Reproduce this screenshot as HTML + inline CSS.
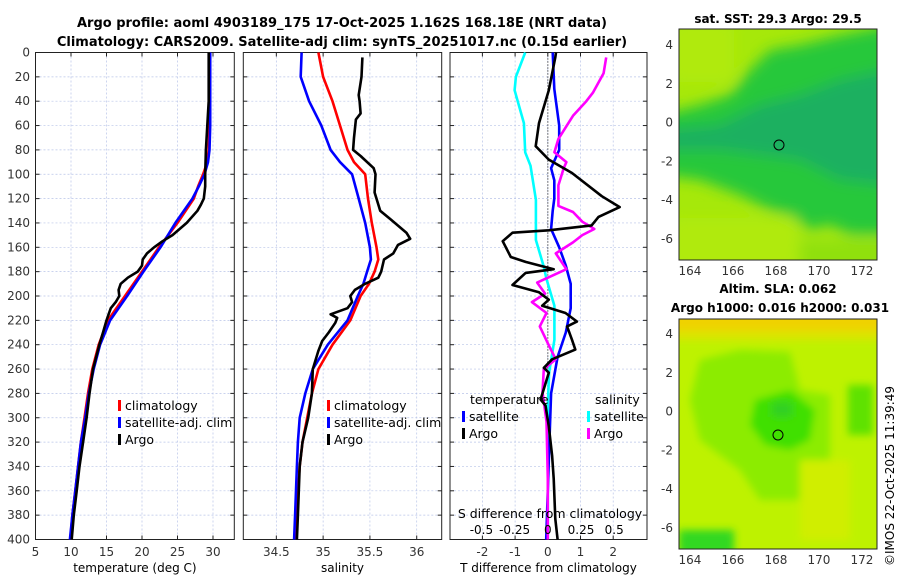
<!DOCTYPE html>
<html><head><meta charset="utf-8">
<style>
body{margin:0;background:#fff;font-family:"Liberation Sans","DejaVu Sans",sans-serif}
svg text{font-family:"DejaVu Sans","Liberation Sans",sans-serif}
</style></head>
<body>
<svg id="fig" width="900" height="580" viewBox="0 0 900 580" xmlns="http://www.w3.org/2000/svg">
<defs>
<filter id="blur1"><feGaussianBlur stdDeviation="7"/></filter>
<filter id="blur2"><feGaussianBlur stdDeviation="4"/></filter>
<clipPath id="m1c"><rect x="679" y="29" width="198" height="231"/></clipPath>
<clipPath id="m2c"><rect x="679" y="319" width="198" height="230"/></clipPath>
</defs>
<text x="342" y="27" font-size="13" font-weight="bold" text-anchor="middle">Argo profile: aoml 4903189_175 17-Oct-2025 1.162S 168.18E (NRT data)</text>
<text x="342" y="46" font-size="13" font-weight="bold" text-anchor="middle">Climatology: CARS2009. Satellite-adj clim: synTS_20251017.nc (0.15d earlier)</text>
<g id="panels"></g>
<g>
<text x="778" y="23" font-size="12" font-weight="bold" text-anchor="middle">sat. SST: 29.3 Argo: 29.5</text>
<g clip-path="url(#m1c)">
<rect x="679" y="29" width="198" height="231" fill="#a6e80a"/>
<g filter="url(#blur1)">
<path d="M660 115 L700 105 L730 95 L750 70 L770 50 L800 45 L840 35 L890 25 L890 235 L850 235 L830 225 L810 230 L790 215 L770 210 L740 195 L700 180 L660 175 Z" fill="#28c83a"/>
<path d="M665 130 L720 125 L760 105 L800 95 L840 80 L885 70 L885 185 L840 180 L800 160 L760 155 L720 150 L665 150 Z" fill="#1ab060"/>
<rect x="672" y="22" width="62" height="60" fill="#b0ea0c"/>
<rect x="672" y="218" width="125" height="50" fill="#b0ea0c"/>
<rect x="800" y="240" width="90" height="30" fill="#90e010"/>
</g>
</g>
<rect x="679" y="29" width="198" height="231" fill="none" stroke="#222"/>
<circle cx="779" cy="145" r="5" fill="none" stroke="#000"/>
</g>
<g>
<text x="778" y="293" font-size="12" font-weight="bold" text-anchor="middle">Altim. SLA: 0.062</text>
<text x="780" y="312" font-size="12" font-weight="bold" text-anchor="middle">Argo h1000: 0.016 h2000: 0.031</text>
<g clip-path="url(#m2c)">
<rect x="679" y="319" width="198" height="230" fill="#bef200"/>
<g filter="url(#blur2)">
<rect x="670" y="310" width="215" height="22" fill="#f0d200"/>
<rect x="670" y="330" width="215" height="10" fill="#dce400"/>
<path d="M700 360 L740 350 L790 352 L800 390 L830 395 L830 470 L800 500 L760 500 L740 470 L700 440 L690 400 Z" fill="#8cec00"/>
<path d="M755 400 L790 390 L815 410 L810 440 L790 450 L765 445 L750 425 Z" fill="#40e000"/>
<rect x="772" y="402" width="20" height="15" fill="#30d020"/>
<rect x="848" y="385" width="25" height="50" fill="#5ee200"/>
<rect x="679" y="530" width="55" height="25" fill="#30d820"/>
<rect x="800" y="460" width="50" height="80" fill="#d0ee00"/>
</g>
</g>
<rect x="679" y="319" width="198" height="230" fill="none" stroke="#222"/>
<circle cx="778" cy="435" r="5" fill="none" stroke="#000"/>
</g>
<text transform="translate(894,566) rotate(-90)" font-size="12">©IMOS 22-Oct-2025 11:39:49</text>
</svg>
<script>
// ---------- data ----------
const depthTicks=[0,20,40,60,80,100,120,140,160,180,200,220,240,260,280,300,320,340,360,380,400];
const tempTicks=[5,10,15,20,25,30];
const salTicks=[34.5,35,35.5,36];
const salTickLabels=["34.5","35","35.5","36"];
const tdiffTicks=[-2,-1,0,1,2];
const sdiffTicks=[-0.5,-0.25,0,0.25,0.5];
const sdiffTickLabels=["-0.5","-0.25","0","0.25","0.5"];
const mapLonTicks=[164,166,168,170,172];
const mapLatTicks=[4,2,0,-2,-4,-6];

const climTdepth=[0,20,40,60,80,90,100,110,120,140,160,180,200,220,240,260,280,300,320,340,360,380,400];
const climT=[29.5,29.5,29.5,29.5,29.4,29.2,28.6,27.9,27.3,25.0,22.4,20.0,17.6,15.2,13.9,13.0,12.4,11.9,11.4,11.0,10.6,10.2,9.9];
const satT=[29.6,29.6,29.6,29.6,29.5,29.3,28.8,28.0,27.1,24.7,22.6,20.2,17.9,15.5,14.1,13.2,12.5,12.0,11.4,11.0,10.6,10.2,9.85];
const argoTdepth=[0,40,60,80,100,110,120,125,130,140,145,150,155,160,165,170,175,180,185,190,195,200,205,210,215,220,230,240,260,280,300,320,340,360,380,400];
const argoT=[29.4,29.4,29.2,29.0,28.9,28.9,28.7,28.3,27.8,26.3,25.3,24.3,22.9,21.7,20.7,20.1,20.0,19.4,18.0,17.0,16.7,16.8,16.3,15.6,15.3,15.0,14.5,14.0,13.1,12.6,12.2,11.7,11.2,10.8,10.4,10.1];

const salDepth=[0,20,40,60,80,90,100,120,140,160,170,180,190,200,220,240,260,280,300,320,340,360,380,400];
const climS=[34.95,35.0,35.1,35.18,35.26,35.33,35.45,35.48,35.52,35.57,35.59,35.55,35.49,35.40,35.29,35.10,34.95,34.88,34.83,34.78,34.75,34.73,34.72,34.71];
const satS=[34.77,34.76,34.85,34.98,35.08,35.18,35.31,35.38,35.45,35.50,35.51,35.47,35.43,35.37,35.26,35.05,34.89,34.81,34.75,34.73,34.72,34.71,34.70,34.69];
const argoSdepth=[4,20,35,40,50,55,70,80,85,95,100,115,120,130,137,148,153,158,165,170,180,185,190,195,200,205,210,215,218,222,230,237,245,260,280,300,320,340,360,380,400];
const argoS=[35.42,35.41,35.38,35.39,35.40,35.35,35.33,35.32,35.40,35.54,35.56,35.55,35.57,35.61,35.72,35.89,35.93,35.80,35.75,35.65,35.62,35.59,35.45,35.34,35.29,35.31,35.26,35.08,35.15,35.13,35.06,34.99,34.95,34.89,34.88,34.84,34.78,34.75,34.74,34.73,34.72];

const tdiffArgoDepth=[0,4,31,58,77,88,99,118,127,135,142,146,148,155,168,172,178,181,191,197,203,208,214,221,225,236,244,252,259,263,285,290,307,331,350,383,400];
const tdiffArgo=[0.25,0.23,0.03,-0.27,-0.37,0.03,0.74,1.65,2.2,1.55,1.34,0.03,-1.08,-1.38,-1.13,-0.68,0.18,-0.68,-1.08,-0.27,0.03,-0.17,0.54,0.89,0.59,0.74,0.84,0.13,-0.12,0.03,-0.22,-0.07,0.03,0.13,0.18,0.23,0.3];
const tdiffSatDepth=[0,30,60,80,95,105,120,130,145,160,175,190,210,230,250,280,320,360,400];
const tdiffSat=[0.15,0.2,0.35,0.35,0.1,0.2,0.2,0.15,0.1,0.35,0.55,0.7,0.7,0.55,0.3,0.1,0.05,0.0,-0.05];
const sdiffSatDepth=[0,20,31,58,82,93,121,154,176,186,208,236,263,290,340,400];
const sdiffSat=[-0.17,-0.24,-0.25,-0.18,-0.17,-0.13,-0.09,-0.09,-0.03,-0.01,0.05,0.05,0.01,0.0,0.0,0.0];
const sdiffArgoDepth=[4,17,33,40,52,71,82,90,95,109,126,131,139,145,150,156,165,178,189,198,205,214,225,241,252,260,279,303,350,400];
const sdiffArgo=[0.44,0.42,0.34,0.29,0.19,0.08,0.05,0.14,0.12,0.08,0.08,0.19,0.26,0.35,0.26,0.19,0.06,0.14,-0.08,-0.02,-0.12,-0.01,-0.06,0.01,0.06,-0.03,-0.04,-0.01,0.0,0.0];

// ---------- drawing ----------
const NS="http://www.w3.org/2000/svg";
const root=document.getElementById('panels');
function mk(tag,attrs,parent){const e=document.createElementNS(NS,tag);for(const k in attrs)e.setAttribute(k,attrs[k]);(parent||root).appendChild(e);return e;}
const Y0=52.5,Y1=539.5;
function yD(d){return Y0+(d/400)*(Y1-Y0);}
function makeX(x0,x1,v0,v1){return v=>x0+(v-v0)/(v1-v0)*(x1-x0);}

function panel(name,x0,x1,xs,ticks,labels,xlabel){
  const g=mk('g',{});
  
  
  ticks.forEach(t=>{const l=mk('line',{x1:xs(t),x2:xs(t),y1:Y0,y2:Y1,stroke:'#b8c4e8','stroke-width':0.7,'stroke-dasharray':'2,2'},g);
    });
  depthTicks.forEach(d=>{const l=mk('line',{x1:x0,x2:x1,y1:yD(d),y2:yD(d),stroke:'#b8c4e8','stroke-width':0.7,'stroke-dasharray':'2,2'},g);
    
    const t1=mk('line',{x1:x0,x2:x0+4,y1:yD(d),y2:yD(d),stroke:'#222'},g);
    const t2=mk('line',{x1:x1-4,x2:x1,y1:yD(d),y2:yD(d),stroke:'#222'},g);});
  ticks.forEach((t,i)=>{
    const tk=mk('line',{x1:xs(t),x2:xs(t),y1:Y1-4,y2:Y1,stroke:'#222'},g);
    const tk2=mk('line',{x1:xs(t),x2:xs(t),y1:Y0,y2:Y0+4,stroke:'#222'},g);
    const tx=mk('text',{x:xs(t),y:556,'font-size':12,'text-anchor':'middle',fill:'#333'},g);tx.textContent=labels[i];
    });
  const fr=mk('rect',{x:x0,y:Y0,width:x1-x0,height:Y1-Y0,fill:'none',stroke:'#222'},g);
  
  const xl=mk('text',{x:(x0+x1)/2,y:572,'font-size':12,'text-anchor':'middle'},g);xl.textContent=xlabel;
  
  return g;
}
function line(g,xs,vals,depths,color,name){
  const p=vals.map((v,i)=>xs(v).toFixed(1)+','+yD(depths[i]).toFixed(1)).join(' ');
  const l=mk('polyline',{points:p,fill:'none',stroke:color,'stroke-width':2.6,'stroke-linejoin':'round'},g);
  
}
function legend(g,x,y,color,label){
  const b=mk('rect',{x:x,y:y-10,width:3,height:11,fill:color},g);
  
  const t=mk('text',{x:x+7,y:y,'font-size':12.5},g);t.textContent=label;
  
}
depthTicks.forEach(d=>{const t=mk('text',{x:30,y:yD(d)+4,'font-size':12,'text-anchor':'end',fill:'#333'});t.textContent=d;
  });

// panel 1
const xT=makeX(35.5,234.3,5,33.0);
const g1=panel('temperature-panel',35.5,234.3,xT,tempTicks,tempTicks.map(String),'temperature (deg C)');
line(g1,xT,climT,climTdepth,'#ff0000','climatology-temp-line');
line(g1,xT,satT,climTdepth,'#0000ff','satellite-temp-line');
line(g1,xT,argoT,argoTdepth,'#000000','argo-temp-line');
legend(g1,118,410,'#f00','climatology');legend(g1,118,427,'#00f','satellite-adj. clim');legend(g1,118,444,'#000','Argo');

// panel 2
const xS=makeX(243.3,441.7,34.147,36.267);
const g2=panel('salinity-panel',243.3,441.7,xS,salTicks,salTickLabels,'salinity');
line(g2,xS,climS,salDepth,'#ff0000','climatology-sal-line');
line(g2,xS,satS,salDepth,'#0000ff','satellite-sal-line');
line(g2,xS,argoS,argoSdepth,'#000000','argo-sal-line');
legend(g2,327,410,'#f00','climatology');legend(g2,327,427,'#00f','satellite-adj. clim');legend(g2,327,444,'#000','Argo');

// panel 3
const xTd=makeX(449.7,645.9,-3,3);
const xSd=makeX(449.7,645.9,-0.739,0.739);
const g3=panel('difference-panel',450,647,xTd,tdiffTicks,tdiffTicks.map(String),'T difference from climatology');
const zl=mk('line',{x1:xTd(0),x2:xTd(0),y1:Y0,y2:Y1,stroke:'#333','stroke-dasharray':'1,2','stroke-width':1.2},g3);

line(g3,xSd,sdiffSat,sdiffSatDepth,'#00ffff','salinity-satellite-diff-line');
line(g3,xTd,tdiffSat,tdiffSatDepth,'#0000ff','temperature-satellite-diff-line');
line(g3,xSd,sdiffArgo,sdiffArgoDepth,'#ff00ff','salinity-argo-diff-line');
line(g3,xTd,tdiffArgo,tdiffArgoDepth,'#000000','temperature-argo-diff-line');
[['temperature',470,404],['salinity',595,404]].forEach(a=>{const t=mk('text',{x:a[1],y:a[2],'font-size':12.5},g3);t.textContent=a[0];
  });
legend(g3,462,421,'#00f','satellite');legend(g3,462,438,'#000','Argo');
legend(g3,587,421,'#0ff','satellite');legend(g3,587,438,'#f0f','Argo');
const st=mk('text',{x:550,y:518,'font-size':12.5,'text-anchor':'middle'},g3);st.textContent='S difference from climatology';

sdiffTicks.forEach((t,i)=>{const tx=mk('text',{x:xSd(t),y:534,'font-size':12,'text-anchor':'middle'},g3);tx.textContent=sdiffTickLabels[i];
  });

// map axes
const xM=makeX(679,877,163.49,172.7);
const yM1=v=>45+(4-v)*19.4, yM2=v=>334+(4-v)*19.4;
[[yM1,260],[yM2,549]].forEach(([ym,yb])=>{
  mapLonTicks.forEach(l=>{const t=mk('text',{x:xM(l),y:yb+15,'font-size':12,'text-anchor':'middle',fill:'#333'});t.textContent=l;
    
    const k=mk('line',{x1:xM(l),x2:xM(l),y1:yb-3,y2:yb,stroke:'#222'});});
  mapLatTicks.forEach(l=>{const t=mk('text',{x:673,y:ym(l)+4,'font-size':12,'text-anchor':'end',fill:'#333'});t.textContent=l;
    });
});
</script>
</body></html>
